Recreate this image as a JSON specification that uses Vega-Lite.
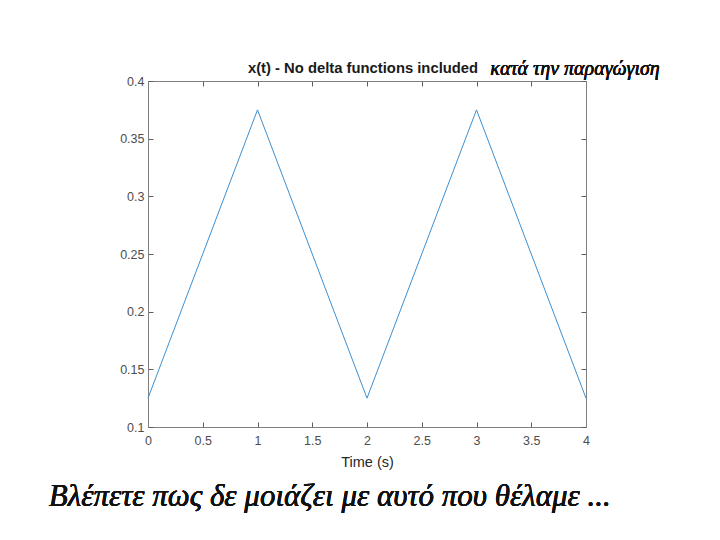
{
  "$schema": "https://vega.github.io/schema/vega-lite/v6.json",
  "width": 438,
  "height": 346,
  "autosize": {"type": "none"},
  "padding": {"left": 148, "top": 81, "right": 134, "bottom": 113},
  "background": "white",
  "config": {
    "view": {"stroke": null},
    "axis": {
      "grid": false,
      "domainColor": "#7f7f7f",
      "tickColor": "#5f5f5f",
      "tickWidth": 1,
      "labelColor": "#4d4d4d",
      "titleColor": "#262626",
      "labelFont": "Liberation Sans",
      "titleFont": "Liberation Sans",
      "labelFontSize": 12.5,
      "titleFontSize": 14.5,
      "titleFontWeight": "normal",
      "tickSize": -5,
      "domainWidth": 1
    }
  },
  "title": {
    "text": "x(t) - No delta functions included",
    "font": "Liberation Sans",
    "fontSize": 14.8,
    "fontWeight": "bold",
    "color": "#1a1a1a",
    "anchor": "middle",
    "dx": -4,
    "offset": -17
  },
  "data": {
    "values": [
      {"t": 0, "x": 0.125},
      {"t": 1, "x": 0.375},
      {"t": 2, "x": 0.125},
      {"t": 3, "x": 0.375},
      {"t": 4, "x": 0.125}
    ]
  },
  "layer": [
    {
      "mark": {"type": "line", "color": "#3d8fd0", "strokeWidth": 1},
      "encoding": {
        "x": {
          "field": "t", "type": "quantitative",
          "scale": {"domain": [0, 4], "nice": false},
          "axis": {"values": [0, 0.5, 1, 1.5, 2, 2.5, 3, 3.5, 4], "title": "Time (s)", "labelPadding": 12, "titlePadding": 9, "labelFlush": false, "format": "~g"}
        },
        "y": {
          "field": "x", "type": "quantitative",
          "scale": {"domain": [0.1, 0.4], "nice": false, "zero": false},
          "axis": {"values": [0.1, 0.15, 0.2, 0.25, 0.3, 0.35, 0.4], "title": null, "labelPadding": 9, "format": "~g"}
        }
      }
    },
    {
      "mark": {"type": "line", "opacity": 0},
      "encoding": {
        "x": {
          "field": "t", "type": "quantitative",
          "scale": {"domain": [0, 4], "nice": false},
          "axis": {"orient": "top", "values": [0, 0.5, 1, 1.5, 2, 2.5, 3, 3.5, 4], "labels": false, "title": null}
        },
        "y": {
          "field": "x", "type": "quantitative",
          "scale": {"domain": [0.1, 0.4], "nice": false, "zero": false},
          "axis": {"orient": "right", "values": [0.1, 0.15, 0.2, 0.25, 0.3, 0.35, 0.4], "labels": false, "title": null}
        }
      }
    },
    {
      "mark": {"type": "text", "text": "κατά την παραγώγιση", "font": "Liberation Serif", "fontStyle": "italic", "fontSize": 20, "color": "#111111", "align": "center", "baseline": "middle", "clip": false},
      "encoding": {
        "x": {"datum": 3.9, "type": "quantitative", "axis": null},
        "y": {"datum": 0.4105, "type": "quantitative", "axis": null}
      }
    },
    {
      "mark": {"type": "text", "text": "Βλέπετε πως δε μοιάζει με αυτό που θέλαμε ...", "font": "Liberation Serif", "fontStyle": "italic", "fontSize": 31, "color": "#111111", "align": "center", "baseline": "middle", "clip": false},
      "encoding": {
        "x": {"datum": 1.66, "type": "quantitative", "axis": null},
        "y": {"datum": 0.039, "type": "quantitative", "axis": null}
      }
    }
  ],
  "resolve": {"axis": {"x": "independent", "y": "independent"}}
}
